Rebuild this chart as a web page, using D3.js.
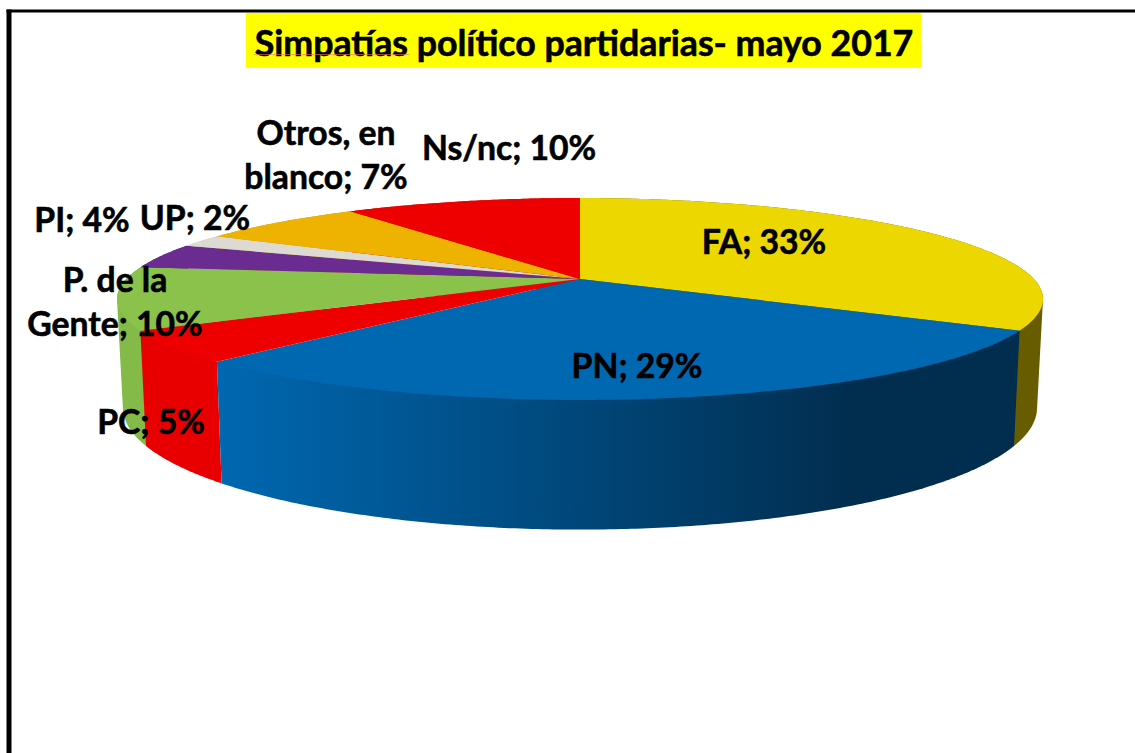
<!DOCTYPE html>
<html>
<head>
<meta charset="utf-8">
<title>Simpatías político partidarias</title>
<script src="https://cdn.jsdelivr.net/npm/d3@7/dist/d3.min.js"></script>
<style>
  html, body { margin: 0; padding: 0; background: #fff; overflow: hidden; }
  text { font-family: Lato, "Open Sans", sans-serif; font-weight: 700; fill: #000; stroke: #000; stroke-width: 0.6px; }
</style>
</head>
<body>
<div id="chart-area"></div>
<script>
const width = 1135, height = 753

// datos
const titulo = "Simpatías político partidarias- mayo 2017"
const partidos = ["FA", "PN", "PC", "P. de la Gente", "PI", "UP", "Otros, en blanco", "Ns/nc"]
const valores = [33, 29, 5, 10, 4, 2, 7, 10]

// estilo de cada porcion
const colorTapa = ["#edd700", "#0068b1", "#ee0000", "#8ac24b", "#6a2c91", "#dddad3", "#eeb200", "#ee0000"]
const colorPared = ["#685c00", "url(#paredPN)", "#e80000", "#84ba47", "#5a2580", "#bbb", "#c99600", "#c00000"]

// lineas de cada etiqueta y donde va su centro
const lineas = [["FA; 33%"], ["PN; 29%"], ["PC; 5%"], ["P. de la", "Gente; 10%"], ["PI; 4%"], ["UP; 2%"], ["Otros, en", "blanco; 7%"], ["Ns/nc; 10%"]]
const lugar = [[764, 242], [637, 366], [151, 422], [115, 280], [82, 220], [195, 218], [326, 133], [509, 148]]

const svg = d3.select("#chart-area").append("svg")
    .attr("width", width)
    .attr("height", height)

// marco
svg.append("rect").attr("x", 6.5).attr("y", 9.5).attr("width", 5).attr("height", height - 9.5).attr("fill", "#000")
svg.append("rect").attr("x", 6.5).attr("y", 9.5).attr("width", width - 6.5).attr("height", 3).attr("fill", "#000")

// titulo
svg.append("rect").attr("x", 246).attr("y", 13).attr("width", 675).attr("height", 55).attr("fill", "#ffff00")
svg.append("text")
    .attr("x", 584)
    .attr("y", 56)
    .attr("text-anchor", "middle")
    .style("font-size", "35.7px")
    .text(titulo)
svg.append("line").attr("x1", 254).attr("x2", 409).attr("y1", 54.5).attr("y2", 54.5)
    .attr("stroke", "#f2716f").attr("stroke-width", 1).attr("opacity", 0.6)

// gradiente de la pared azul
const grad = svg.append("defs").append("linearGradient")
    .attr("id", "paredPN")
    .attr("gradientUnits", "userSpaceOnUse")
    .attr("x1", 216).attr("x2", 860).attr("y1", 0).attr("y2", 0)
grad.append("stop").attr("offset", 0).attr("stop-color", "#0068b1")
grad.append("stop").attr("offset", 1).attr("stop-color", "#012d4e")

// perspectiva: circulo unitario -> pantalla (k acerca el frente)
const k = -0.198
const cx = 580
const tapa = { ax: 453.8, by: 97, y0: 279 }
const base = { ax: 448, by: 117, y0: 383.7 }

function proyecta(a, disco) {
  const u = Math.sin(a), v = -Math.cos(a)
  const w = 1 + k * v
  return [cx + disco.ax * u / w, disco.y0 + disco.by * v / w]
}

function arco(a0, a1, disco) {
  const n = Math.max(2, Math.ceil((a1 - a0) / 0.01))
  return d3.range(n + 1).map(i => proyecta(a0 + (a1 - a0) * i / n, disco))
}

const linea = d3.line()
const pie = d3.pie().sort(null).startAngle(0).endAngle(2 * Math.PI)
const porciones = pie(valores).map((d, i) => ({ ...d, i: i }))

// paredes, de atras hacia adelante
const paredes = porciones.slice().sort((a, b) =>
  -Math.cos((a.startAngle + a.endAngle) / 2) - -Math.cos((b.startAngle + b.endAngle) / 2))

// el casco convexo cubre la silueta; lo que sobra queda tapado por la tapa o la pared siguiente
svg.append("g").selectAll("path")
    .data(paredes)
    .join("path")
    .attr("d", d => linea(d3.polygonHull(arco(d.startAngle, d.endAngle, tapa).concat(arco(d.startAngle, d.endAngle, base)))) + "Z")
    .attr("fill", d => colorPared[d.i])

// tapa
svg.append("g").selectAll("path")
    .data(porciones)
    .join("path")
    .attr("d", d => linea([[cx, tapa.y0]].concat(arco(d.startAngle, d.endAngle, tapa))) + "Z")
    .attr("fill", d => colorTapa[d.i])

// etiquetas
const etiqueta = svg.append("g").selectAll("text")
    .data(partidos)
    .join("text")
    .attr("text-anchor", "middle")
    .style("font-size", "33.7px")

etiqueta.selectAll("tspan")
    .data((d, i) => lineas[i].map(t => ({ t: t, i: i })))
    .join("tspan")
    .attr("x", d => lugar[d.i][0])
    .attr("y", (d, j) => lugar[d.i][1] + j * 44 + 12)
    .text(d => d.t)
</script>
</body>
</html>
